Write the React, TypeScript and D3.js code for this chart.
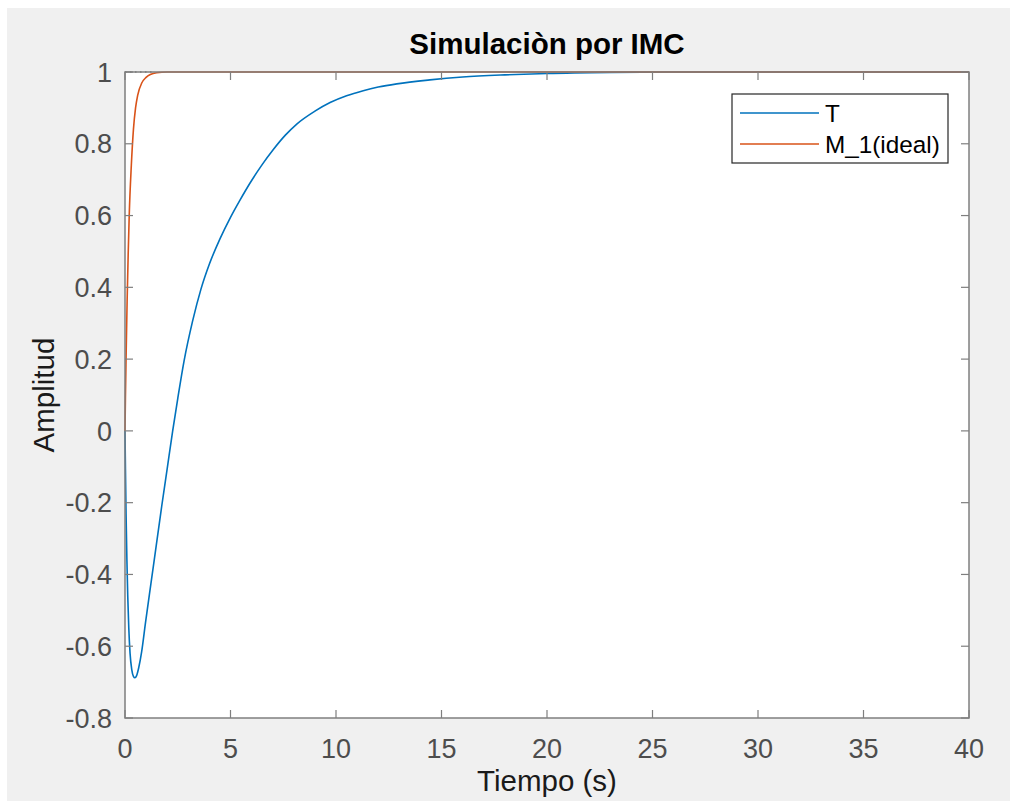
import React from "react";
import * as d3 from "d3";

// ---- data ----
const tT: number[] = [0, 0.02, 0.05, 0.09, 0.13, 0.18, 0.24, 0.32, 0.4, 0.47, 0.55, 0.65, 0.79, 0.97, 1.23, 1.48, 1.74, 2.0, 2.26, 2.5, 2.8, 3.2, 3.6, 4.0, 4.5, 5.0, 5.45, 5.92, 6.5, 7.03, 7.6, 8.14, 9.0, 9.72, 10.5, 11.29, 12.0, 12.88, 14.45, 16, 18, 20, 23, 26, 40];
const vT: number[] = [0, -0.1, -0.23, -0.36, -0.46, -0.55, -0.62, -0.665, -0.684, -0.688, -0.682, -0.66, -0.615, -0.535, -0.425, -0.32, -0.21, -0.105, 0, 0.09, 0.195, 0.305, 0.395, 0.465, 0.535, 0.595, 0.643, 0.69, 0.742, 0.784, 0.824, 0.855, 0.891, 0.915, 0.934, 0.948, 0.958, 0.967, 0.978, 0.986, 0.992, 0.996, 0.999, 1, 1];
const tM: number[] = [0, 0.02, 0.05, 0.1, 0.15, 0.2, 0.3, 0.4, 0.5, 0.6, 0.8, 1.0, 1.2, 1.5, 2, 40];
const vM: number[] = [0, 0.09, 0.2, 0.36, 0.49, 0.6, 0.74, 0.84, 0.9, 0.935, 0.97, 0.985, 0.993, 0.998, 1, 1];
const xTicks: number[] = [0, 5, 10, 15, 20, 25, 30, 35, 40];
const yTicks: number[] = [-0.8, -0.6, -0.4, -0.2, 0, 0.2, 0.4, 0.6, 0.8, 1];
const seriesNames: string[] = ["T", "M_1(ideal)"];
const seriesColors: string[] = ["#0072BD", "#D95319"];
const titleText = "Simulaciòn por IMC";
const xLabel = "Tiempo (s)";
const yLabel = "Amplitud";

export default function App() {
  const W = 1010, H = 801;
  const L = 125, R = 969, T = 72, B = 718;
  const x = d3.scaleLinear().domain([0, 40]).range([L, R]);
  const y = d3.scaleLinear().domain([-0.8, 1]).range([B, T]);
  const line = d3
    .line<[number, number]>()
    .x((d) => x(d[0]))
    .y((d) => y(d[1]))
    .curve(d3.curveMonotoneX);
  const dT = line(tT.map((t, i) => [t, vT[i]] as [number, number])) || "";
  const dM = line(tM.map((t, i) => [t, vM[i]] as [number, number])) || "";
  const font = "'Liberation Sans', Arial, Helvetica, sans-serif";
  const axisColor = "#7f7f7f";
  const tickTextColor = "#4d4d4d";
  const tl = 8;
  const fmt = (v: number) => String(Math.round(v * 10) / 10);
  return (
    <svg
      width={W}
      height={H}
      style={{ position: "absolute", left: 0, top: 0, display: "block" }}
      fontFamily={font}
    >
      <rect x={7} y={8} width={W - 7} height={H - 8} fill="#f0f0f0" />
      <rect x={L} y={T} width={R - L} height={B - T} fill="#ffffff" />
      {/* dotted steady-state marker */}
      <line x1={x(0)} x2={x(1.3)} y1={y(1)} y2={y(1)} stroke="#333" strokeWidth={1.2} strokeDasharray="1.5,3.5" />
      {/* curves */}
      <path d={dT} fill="none" stroke={seriesColors[0]} strokeWidth={1.6} />
      <path d={dM} fill="none" stroke={seriesColors[1]} strokeWidth={1.6} />
      {/* axes box */}
      <rect x={L} y={T} width={R - L} height={B - T} fill="none" stroke={axisColor} strokeWidth={1.5} />
      {xTicks.map((v) => (
        <g key={"xt" + v}>
          <line x1={x(v)} x2={x(v)} y1={B} y2={B - tl} stroke={axisColor} strokeWidth={1.2} />
          <line x1={x(v)} x2={x(v)} y1={T} y2={T + tl} stroke={axisColor} strokeWidth={1.2} />
          <text x={x(v)} y={B + 40} textAnchor="middle" fontSize={27} fill={tickTextColor}>
            {fmt(v)}
          </text>
        </g>
      ))}
      {yTicks.map((v) => (
        <g key={"yt" + v}>
          <line x1={L} x2={L + tl} y1={y(v)} y2={y(v)} stroke={axisColor} strokeWidth={1.2} />
          <line x1={R} x2={R - tl} y1={y(v)} y2={y(v)} stroke={axisColor} strokeWidth={1.2} />
          <text x={L - 13} y={y(v)} dy="0.36em" textAnchor="end" fontSize={27} fill={tickTextColor}>
            {fmt(v)}
          </text>
        </g>
      ))}
      {/* title and labels */}
      <text x={(L + R) / 2} y={54} textAnchor="middle" fontSize={29.5} fontWeight="bold" fill="#000">
        {titleText}
      </text>
      <text x={(L + R) / 2} y={791} textAnchor="middle" fontSize={29.5} fill="#1a1a1a">
        {xLabel}
      </text>
      <text
        transform={`translate(54, ${(T + B) / 2}) rotate(-90)`}
        textAnchor="middle"
        fontSize={29.5}
        fill="#1a1a1a"
      >
        {yLabel}
      </text>
      {/* legend */}
      <g>
        <rect x={732} y={94} width={216} height={69} fill="#fff" stroke="#262626" strokeWidth={1.2} />
        {seriesNames.map((n, i) => (
          <g key={n}>
            <line x1={740} x2={819} y1={113 + i * 31} y2={113 + i * 31} stroke={seriesColors[i]} strokeWidth={1.6} />
            <text x={825} y={113 + i * 31} dy="0.36em" fontSize={24.3} fill="#000">
              {n}
            </text>
          </g>
        ))}
      </g>
    </svg>
  );
}
